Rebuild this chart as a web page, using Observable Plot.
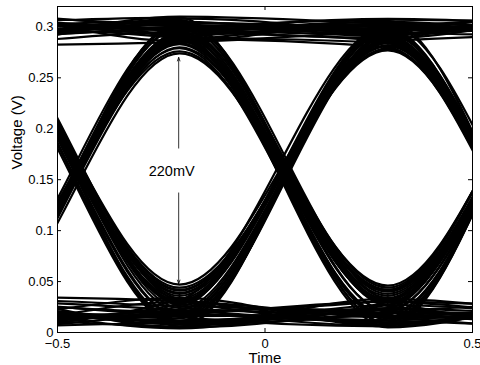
<!DOCTYPE html>
<html><head><meta charset="utf-8">
<script src="https://cdn.jsdelivr.net/npm/d3@7"></script>
<script src="https://cdn.jsdelivr.net/npm/@observablehq/plot@0.6"></script>
<style>body{margin:0;background:#fff} svg{display:block}</style>
</head><body><div id="chart"></div>
<script>
// Bit-centre times (peaks / troughs of the eye)
const bitTimes = [-0.708, -0.206, 0.296, 0.798];

// Axis ticks
const xTicks = [-0.5, 0, 0.5];
const xTickLabels = ["\u22120.5", "0", "0.5"];
const yTicks = [0, 0.05, 0.1, 0.15, 0.2, 0.25, 0.3];
const yTickLabels = ["0", "0.05", "0.1", "0.15", "0.2", "0.25", "0.3"];

// Trace levels at the four bit centres, grouped by first two bits
const tracesLL = [
  [0.012, 0.018, 0.010, 0.022], [0.028, 0.020, 0.030, 0.015], [0.006, 0.010, 0.016, 0.008], [0.033, 0.026, 0.022, 0.031],
  [0.018, 0.012, 0.024, 0.296], [0.009, 0.030, 0.015, 0.302], [0.025, 0.008, 0.020, 0.288], [0.031, 0.022, 0.010, 0.305],
  [0.015, 0.022, 0.284, 0.020], [0.027, 0.011, 0.291, 0.012], [0.008, 0.028, 0.278, 0.030], [0.020, 0.016, 0.288, 0.006],
  [0.022, 0.010, 0.290, 0.306], [0.011, 0.025, 0.296, 0.300], [0.030, 0.018, 0.286, 0.292], [0.014, 0.006, 0.299, 0.309]
];
const tracesLH = [
  [0.018, 0.283, 0.016, 0.024], [0.029, 0.276, 0.026, 0.012], [0.010, 0.290, 0.008, 0.030], [0.024, 0.286, 0.021, 0.018],
  [0.013, 0.280, 0.040, 0.296], [0.026, 0.292, 0.032, 0.288], [0.020, 0.287, 0.046, 0.302], [0.008, 0.274, 0.036, 0.293],
  [0.016, 0.294, 0.286, 0.014], [0.030, 0.301, 0.292, 0.026], [0.009, 0.288, 0.280, 0.008], [0.022, 0.298, 0.295, 0.020],
  [0.019, 0.292, 0.303, 0.300], [0.006, 0.299, 0.296, 0.308], [0.027, 0.286, 0.299, 0.291], [0.014, 0.295, 0.307, 0.304]
];
const tracesHL = [
  [0.300, 0.020, 0.012, 0.027], [0.291, 0.011, 0.024, 0.016], [0.307, 0.028, 0.019, 0.009], [0.296, 0.015, 0.006, 0.032],
  [0.303, 0.024, 0.018, 0.290], [0.289, 0.009, 0.027, 0.300], [0.298, 0.031, 0.012, 0.306], [0.294, 0.016, 0.022, 0.285],
  [0.297, 0.036, 0.281, 0.022], [0.305, 0.042, 0.277, 0.013], [0.288, 0.031, 0.290, 0.030], [0.301, 0.047, 0.285, 0.018],
  [0.292, 0.038, 0.292, 0.301], [0.306, 0.028, 0.298, 0.295], [0.299, 0.044, 0.286, 0.306], [0.287, 0.033, 0.294, 0.290]
];
const tracesHH = [
  [0.304, 0.296, 0.014, 0.021], [0.293, 0.303, 0.026, 0.010], [0.299, 0.289, 0.009, 0.029], [0.309, 0.300, 0.020, 0.015],
  [0.296, 0.302, 0.038, 0.297], [0.307, 0.290, 0.030, 0.289], [0.290, 0.298, 0.044, 0.304], [0.301, 0.306, 0.034, 0.292],
  [0.303, 0.297, 0.290, 0.016], [0.289, 0.304, 0.297, 0.024], [0.308, 0.291, 0.284, 0.010], [0.295, 0.300, 0.302, 0.031],
  [0.298, 0.305, 0.294, 0.300], [0.306, 0.293, 0.301, 0.290], [0.291, 0.299, 0.308, 0.303], [0.282, 0.285, 0.296, 0.307]
];
const tracesExtraA = [
  [0.021, 0.004, 0.027, 0.018], [0.035, 0.031, 0.008, 0.025], [0.004, 0.019, 0.032, 0.299], [0.016, 0.034, 0.006, 0.310],
  [0.034, 0.005, 0.293, 0.026], [0.012, 0.019, 0.282, 0.034], [0.005, 0.032, 0.301, 0.296], [0.024, 0.014, 0.293, 0.311],
  [0.033, 0.279, 0.012, 0.007], [0.005, 0.293, 0.031, 0.027], [0.031, 0.284, 0.042, 0.306], [0.017, 0.289, 0.029, 0.286],
  [0.004, 0.304, 0.289, 0.033], [0.034, 0.290, 0.298, 0.005], [0.011, 0.302, 0.292, 0.310], [0.032, 0.289, 0.305, 0.295]
];
const tracesExtraB = [
  [0.285, 0.006, 0.033, 0.020], [0.310, 0.033, 0.015, 0.004], [0.308, 0.005, 0.030, 0.293], [0.284, 0.026, 0.007, 0.309],
  [0.293, 0.029, 0.287, 0.035], [0.309, 0.039, 0.279, 0.007], [0.283, 0.041, 0.289, 0.309], [0.310, 0.030, 0.300, 0.298],
  [0.286, 0.307, 0.031, 0.006], [0.311, 0.294, 0.005, 0.033], [0.284, 0.295, 0.041, 0.310], [0.305, 0.309, 0.027, 0.300],
  [0.310, 0.286, 0.306, 0.005], [0.283, 0.308, 0.288, 0.028], [0.304, 0.296, 0.289, 0.311], [0.286, 0.310, 0.303, 0.294]
];

// Annotation
const annX = -0.208;
const annTop = 0.270;
const annBottom = 0.048;
const annGapTop = 0.181;
const annGapBottom = 0.137;
const annLabel = "220mV";
const annLabelY = 0.158;

// Build long-format table (endpoints held flat beyond the window)
const allTraces = [...tracesLL, ...tracesLH, ...tracesHL, ...tracesHH, ...tracesExtraA, ...tracesExtraB];
const ui = bitTimes[1] - bitTimes[0];
const rows = [];
allTraces.forEach((lv, id) => {
  rows.push({id, t: bitTimes[0] - ui, v: lv[0]});
  bitTimes.forEach((t, k) => rows.push({id, t, v: lv[k]}));
  rows.push({id, t: bitTimes[3] + ui, v: lv[3]});
});

const mL = 57, mR = 8, mT = 6, mB = 33, W = 480, H = 365;
const xDom = [-0.5, 0.5], yDom = [0, 0.32];
const tickX = (xDom[1] - xDom[0]) * 4 / (W - mL - mR);
const tickY = (yDom[1] - yDom[0]) * 4 / (H - mT - mB);
const font = "'Liberation Sans', Arial, Helvetica, sans-serif";

const chart = Plot.plot({
  width: W, height: H,
  marginLeft: mL, marginRight: mR, marginTop: mT, marginBottom: mB,
  x: {domain: xDom},
  y: {domain: yDom},
  style: {fontFamily: font, fontSize: "13px", background: "white", color: "black"},
  marks: [
    Plot.line(rows, {x: "t", y: "v", z: "id", curve: "monotone-x", stroke: "black", strokeWidth: 2.2, clip: true}),
    Plot.frame({stroke: "black", strokeWidth: 1}),
    Plot.ruleY(yTicks, {y: d => d, x1: xDom[0], x2: xDom[0] + tickX, stroke: "black"}),
    Plot.ruleY(yTicks, {y: d => d, x1: xDom[1], x2: xDom[1] - tickX, stroke: "black"}),
    Plot.ruleX(xTicks, {x: d => d, y1: yDom[0], y2: yDom[0] + tickY, stroke: "black"}),
    Plot.ruleX(xTicks, {x: d => d, y1: yDom[1], y2: yDom[1] - tickY, stroke: "black"}),
    Plot.axisX({ticks: xTicks, tickSize: 0, tickPadding: 6, tickFormat: d => xTickLabels[xTicks.indexOf(d)], label: null}),
    Plot.axisY({ticks: yTicks, tickSize: 0, tickPadding: 4, tickFormat: d => yTickLabels[yTicks.indexOf(d)], label: null}),
    Plot.text(["Time"], {frameAnchor: "bottom", lineAnchor: "middle", dy: 26, text: d => d, fill: "black", fontSize: 15}),
    Plot.text(["Voltage (V)"], {frameAnchor: "left", dx: -40, rotate: -90, text: d => d, fill: "black", fontSize: 15}),
    Plot.arrow([annLabel], {x1: annX, y1: annGapTop, x2: annX, y2: annTop, stroke: "black", strokeWidth: 0.8, headLength: 7, headAngle: 40}),
    Plot.arrow([annLabel], {x1: annX, y1: annGapBottom, x2: annX, y2: annBottom, stroke: "black", strokeWidth: 0.8, headLength: 7, headAngle: 40}),
    Plot.text([annLabel], {x: annX, y: annLabelY, dx: -7, text: d => d, fill: "black", fontSize: 14.5})
  ]
});
document.getElementById("chart").appendChild(chart);
</script>
</body></html>
